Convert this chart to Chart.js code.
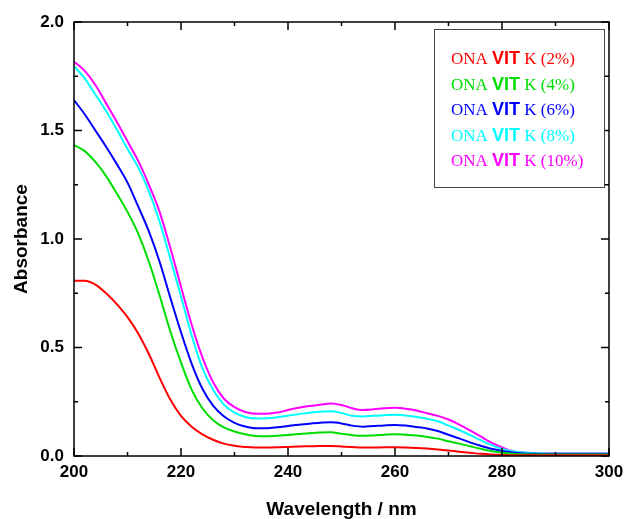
<!DOCTYPE html>
<html>
<head>
<meta charset="utf-8">
<script src="https://cdn.jsdelivr.net/npm/chart.js@4.4.1/dist/chart.umd.min.js"></script>
<style>
html,body{margin:0;padding:0;background:#fff;}
#wrap{width:624px;height:519px;position:relative;}
</style>
</head>
<body>
<div id="wrap"><canvas id="c" width="624" height="519"></canvas></div>
<script>
// ---- data ----
const wavelengths = [200,202,204,206,208,210,212,214,216,218,220,222,224,226,228,230,232,234,236,238,240,242,244,246,248,250,252,254,256,258,260,262,264,266,268,270,272,274,276,278,280,282,284,286,288,290,295,300];
const vitK2 = [0.808,0.808,0.79,0.75,0.70,0.64,0.565,0.47,0.36,0.26,0.185,0.135,0.10,0.075,0.057,0.047,0.041,0.039,0.039,0.040,0.042,0.044,0.045,0.046,0.046,0.044,0.041,0.039,0.039,0.040,0.040,0.039,0.037,0.034,0.030,0.025,0.020,0.015,0.010,0.007,0.005,0.004,0.004,0.004,0.004,0.004,0.004,0.004];
const vitK4 = [1.433,1.405,1.355,1.29,1.21,1.125,1.025,0.895,0.74,0.575,0.43,0.305,0.22,0.165,0.132,0.113,0.100,0.092,0.091,0.093,0.097,0.101,0.105,0.108,0.109,0.103,0.096,0.093,0.095,0.098,0.100,0.098,0.094,0.088,0.080,0.068,0.057,0.045,0.033,0.023,0.015,0.010,0.008,0.007,0.007,0.007,0.007,0.007];
const vitK6 = [1.64,1.575,1.50,1.425,1.345,1.26,1.15,1.035,0.895,0.73,0.57,0.425,0.31,0.232,0.183,0.153,0.136,0.128,0.128,0.132,0.138,0.144,0.149,0.153,0.155,0.150,0.140,0.135,0.138,0.141,0.143,0.140,0.134,0.127,0.115,0.098,0.081,0.063,0.047,0.033,0.023,0.016,0.012,0.010,0.009,0.009,0.009,0.009];
const vitK8 = [1.797,1.74,1.665,1.59,1.505,1.415,1.33,1.22,1.08,0.91,0.735,0.555,0.405,0.305,0.237,0.200,0.180,0.173,0.174,0.179,0.186,0.193,0.199,0.204,0.206,0.198,0.185,0.182,0.185,0.188,0.190,0.187,0.180,0.172,0.160,0.140,0.120,0.097,0.073,0.050,0.033,0.022,0.016,0.013,0.012,0.011,0.011,0.011];
const vitK10 = [1.817,1.775,1.71,1.625,1.54,1.45,1.36,1.25,1.125,0.96,0.78,0.605,0.455,0.34,0.265,0.225,0.203,0.195,0.195,0.200,0.212,0.222,0.230,0.236,0.242,0.235,0.220,0.212,0.215,0.220,0.222,0.218,0.210,0.197,0.185,0.168,0.145,0.118,0.090,0.062,0.040,0.022,0.016,0.014,0.013,0.013,0.013,0.013];
const seriesLabels = ['ONA VIT K (2%)','ONA VIT K (4%)','ONA VIT K (6%)','ONA VIT K (8%)','ONA VIT K (10%)'];
const seriesColors = ['#ff0000','#00dd00','#0000ff','#00ffff','#ff00ff'];
const xTicks = [200,220,240,260,280,300];
const yTicks = [0.0,0.5,1.0,1.5,2.0];

const allSeries = [vitK2, vitK4, vitK6, vitK8, vitK10];
const datasets = allSeries.map((s, i) => ({
  label: seriesLabels[i],
  data: s.map((v, j) => ({x: wavelengths[j], y: v})),
  borderColor: seriesColors[i],
  backgroundColor: seriesColors[i],
  borderWidth: 2,
  pointRadius: 0,
  fill: false,
  cubicInterpolationMode: 'monotone'
}));

const SANS = '"Liberation Sans", Arial, sans-serif';
const SERIF = '"Liberation Serif", "Times New Roman", serif';

const framePlugin = {
  id: 'frame',
  afterDatasetsDraw(chart) {
    const ctx = chart.ctx;
    const a = chart.chartArea;
    const xs = chart.scales.x, ys = chart.scales.y;
    ctx.save();
    ctx.strokeStyle = '#000';
    ctx.lineWidth = 1.5;
    ctx.strokeRect(a.left, a.top, a.right - a.left, a.bottom - a.top);
    const major = 8, minor = 4;
    ctx.beginPath();
    for (let i = 0; i < xTicks.length; i++) {
      const px = xs.getPixelForValue(xTicks[i]);
      ctx.moveTo(px, a.bottom); ctx.lineTo(px, a.bottom - major);
      ctx.moveTo(px, a.top); ctx.lineTo(px, a.top + major);
      if (i < xTicks.length - 1) {
        const pm = xs.getPixelForValue((xTicks[i] + xTicks[i + 1]) / 2);
        ctx.moveTo(pm, a.bottom); ctx.lineTo(pm, a.bottom - minor);
        ctx.moveTo(pm, a.top); ctx.lineTo(pm, a.top + minor);
      }
    }
    for (let i = 0; i < yTicks.length; i++) {
      const py = ys.getPixelForValue(yTicks[i]);
      ctx.moveTo(a.left, py); ctx.lineTo(a.left + major, py);
      ctx.moveTo(a.right, py); ctx.lineTo(a.right - major, py);
      if (i < yTicks.length - 1) {
        const pm = ys.getPixelForValue((yTicks[i] + yTicks[i + 1]) / 2);
        ctx.moveTo(a.left, pm); ctx.lineTo(a.left + minor, pm);
        ctx.moveTo(a.right, pm); ctx.lineTo(a.right - minor, pm);
      }
    }
    ctx.stroke();

    // legend box
    const bx = a.right - 175, by = a.top + 7, bw = 170, bh = 158;
    ctx.fillStyle = '#fff';
    ctx.fillRect(bx, by, bw, bh);
    ctx.strokeStyle = '#444';
    ctx.lineWidth = 1;
    ctx.strokeRect(bx + 0.5, by + 0.5, bw, bh);
    ctx.textBaseline = 'alphabetic';
    ctx.textAlign = 'left';
    chart.data.datasets.forEach((ds, i) => {
      const parts = ds.label.split('VIT');
      let x = bx + 17;
      const y = by + 35 + i * 25.5;
      ctx.fillStyle = ds.borderColor;
      ctx.font = '17px ' + SERIF;
      ctx.fillText(parts[0], x, y);
      x += ctx.measureText(parts[0]).width;
      ctx.font = 'bold 18px ' + SANS;
      ctx.fillText('VIT', x, y);
      x += ctx.measureText('VIT').width;
      ctx.font = '17px ' + SERIF;
      ctx.fillText(parts[1], x, y);
    });
    ctx.restore();
  }
};

new Chart(document.getElementById('c'), {
  type: 'line',
  data: { datasets },
  options: {
    responsive: false,
    animation: false,
    devicePixelRatio: 1,
    layout: { padding: { top: 22, right: 15, left: 0, bottom: 0 } },
    plugins: { legend: { display: false }, tooltip: { enabled: false } },
    scales: {
      x: {
        type: 'linear',
        min: 200, max: 300,
        afterFit(s) { s.height = 63; s.paddingLeft = 0; s.paddingRight = 0; },
        afterBuildTicks(s) { s.ticks = xTicks.map(v => ({value: v})); },
        grid: { display: false, drawTicks: false },
        border: { display: false },
        ticks: {
          padding: 6,
          color: '#000',
          font: { family: SANS, size: 17, weight: 'bold' },
          maxRotation: 0,
          callback: v => String(v)
        },
        title: {
          display: true,
          text: 'Wavelength / nm',
          color: '#000',
          font: { family: SANS, size: 19, weight: 'bold', lineHeight: 1.0 },
          padding: { top: 0, bottom: 0 }
        }
      },
      y: {
        type: 'linear',
        min: 0, max: 2,
        afterFit(s) { s.width = 74; s.paddingTop = 0; s.paddingBottom = 0; },
        afterBuildTicks(s) { s.ticks = yTicks.map(v => ({value: v})); },
        grid: { display: false, drawTicks: false },
        border: { display: false },
        ticks: {
          padding: 10,
          color: '#000',
          font: { family: SANS, size: 17, weight: 'bold' },
          callback: v => Number(v).toFixed(1)
        },
        title: {
          display: true,
          text: 'Absorbance',
          color: '#000',
          font: { family: SANS, size: 19, weight: 'bold', lineHeight: 1.2 },
          padding: { top: 10, bottom: 0 }
        }
      }
    }
  },
  plugins: [framePlugin]
});
</script>
</body>
</html>
